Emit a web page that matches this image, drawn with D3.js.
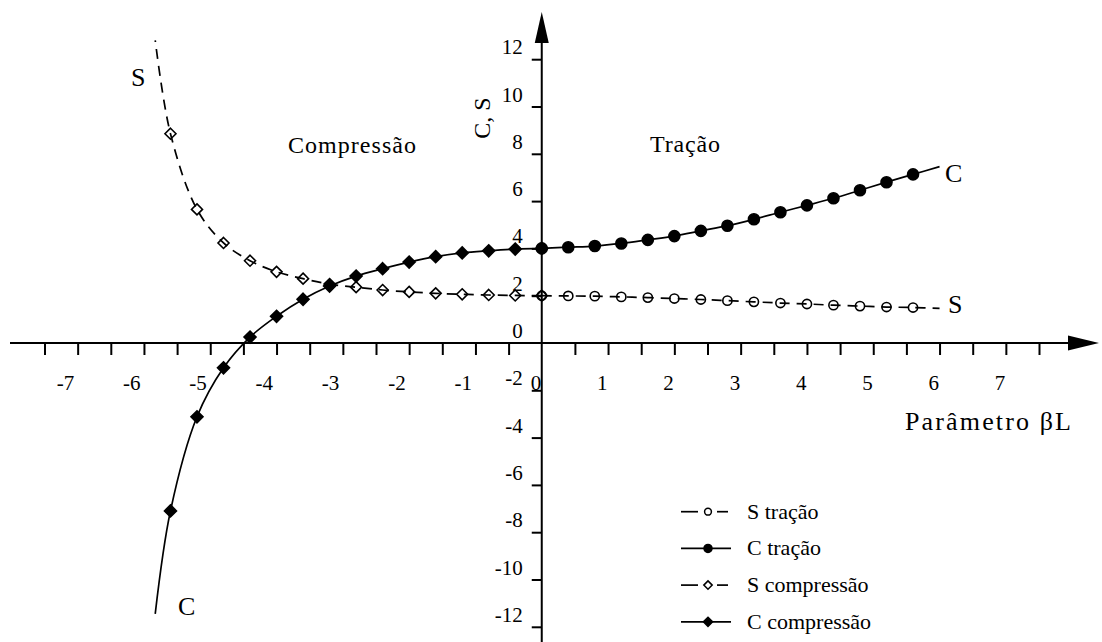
<!DOCTYPE html>
<html>
<head>
<meta charset="utf-8">
<script src="https://cdn.jsdelivr.net/npm/d3@7"></script>
<style>
  html, body { margin: 0; padding: 0; background: #fff; }
  svg, svg text { font-family: "Liberation Serif", "Times New Roman", Times, serif; }
</style>
</head>
<body>
<svg id="chart" width="1102" height="642"></svg>
<script>
// Stability functions C and S against the parameter βL.
// Each series' last point only closes the curve; it carries no marker.
const xTracao     = [0, 0.4, 0.8, 1.2, 1.6, 2.0, 2.4, 2.8, 3.2, 3.6, 4.0, 4.4, 4.8, 5.2, 5.6, 6.0];
const cTracao     = [4.00, 4.05, 4.10, 4.21, 4.36, 4.52, 4.74, 4.96, 5.23, 5.53, 5.82, 6.12, 6.46, 6.80, 7.13, 7.46];
const sTracao     = [2.00, 1.99, 1.98, 1.95, 1.92, 1.88, 1.84, 1.79, 1.74, 1.69, 1.65, 1.60, 1.56, 1.52, 1.50, 1.46];

const xCompressao = [0, -0.4, -0.8, -1.2, -1.6, -2.0, -2.4, -2.8, -3.2, -3.6, -4.0, -4.4, -4.8, -5.2, -5.6, -5.83];
const cCompressao = [4.00, 3.97, 3.90, 3.81, 3.65, 3.42, 3.14, 2.83, 2.41, 1.85, 1.13, 0.25, -1.05, -3.12, -7.10, -11.45];
const sCompressao = [2.00, 2.01, 2.03, 2.06, 2.10, 2.16, 2.24, 2.36, 2.49, 2.72, 3.01, 3.48, 4.23, 5.65, 8.85, 12.80];

const xTickMarks  = [-7.5, -7, -6.5, -6, -5.5, -5, -4.5, -4, -3.5, -3, -2.5, -2, -1.5, -1, -0.5,
                     0.5, 1, 1.5, 2, 2.5, 3, 3.5, 4, 4.5, 5, 5.5, 6, 6.5, 7, 7.5];
const xTickLabels = [-7, -6, -5, -4, -3, -2, -1, 0, 1, 2, 3, 4, 5, 6, 7];
const yTickMarks  = [-12, -10, -8, -6, -4, -2, 2, 4, 6, 8, 10, 12];
const yTickLabels = [-12, -10, -8, -6, -4, -2, 0, 2, 4, 6, 8, 10, 12];
const legendLabels = ["S tração", "C tração", "S compressão", "C compressão"];

const serif = "Liberation Serif, Times New Roman, Times, serif";
const svg = d3.select("#chart").attr("font-family", serif);
const x = d3.scaleLinear().domain([-7.5, 7.5]).range([44.5, 1039]);
const y = d3.scaleLinear().domain([-12, 12]).range([626.8, 59.2]);
const x0 = x(0), y0 = y(0);
const ink = "#000";

// ---- axes ----
const axes = svg.append("g").attr("stroke", ink).attr("fill", ink);
axes.append("line").attr("x1", 10).attr("x2", 1068).attr("y1", y0).attr("y2", y0).attr("stroke-width", 2);
axes.append("path").attr("stroke", "none")
  .attr("d", `M1068,${y0 - 7.5}L1099,${y0}L1068,${y0 + 7.5}Z`);
axes.append("line").attr("x1", x0).attr("x2", x0).attr("y1", 43).attr("y2", 642).attr("stroke-width", 2);
axes.append("path").attr("stroke", "none")
  .attr("d", `M${x0 - 7},43L${x0},12L${x0 + 7},43Z`);

// tick marks
svg.append("g").attr("transform", `translate(0,${y0})`)
  .call(d3.axisBottom(x).tickValues(xTickMarks).tickSize(12).tickFormat(""))
  .call(g => g.select(".domain").remove())
  .call(g => g.selectAll("line").attr("stroke-width", 2));
svg.append("g").attr("transform", `translate(${x0},0)`)
  .call(d3.axisLeft(y).tickValues(yTickMarks).tickSize(10).tickFormat(""))
  .call(g => g.select(".domain").remove())
  .call(g => g.selectAll("line").attr("stroke-width", 2));

// tick labels
const fmt = d => d < 0 ? "-" + Math.abs(d) : String(d);
svg.append("g").attr("transform", `translate(0,${y0})`)
  .call(d3.axisBottom(x).tickValues(xTickLabels).tickSize(0).tickFormat(fmt))
  .call(g => g.select(".domain").remove())
  .call(g => g.attr("font-family", serif).attr("font-size", 21))
  .call(g => g.selectAll("text")
    .attr("fill", ink).attr("text-anchor", "end").attr("dy", null).attr("y", 47)
    .attr("x", d => d < 0 ? -4 : -1));
svg.append("g").attr("transform", `translate(${x0},0)`)
  .call(d3.axisLeft(y).tickValues(yTickLabels).tickSize(0).tickPadding(19).tickFormat(fmt))
  .call(g => g.select(".domain").remove())
  .call(g => g.attr("font-family", serif).attr("font-size", 21))
  .call(g => g.selectAll("text").attr("fill", ink).attr("dy", null).attr("y", -5.5));

// ---- series ----
const line = d3.line().x(d => x(d[0])).y(d => y(d[1])).curve(d3.curveCatmullRom.alpha(0.5));
const pts = (xs, ys) => xs.map((v, i) => [v, ys[i]]);
const diamond = r => `M0,${-r}L${r},0L0,${r}L${-r},0Z`;

const series = [
  { xs: xTracao, ys: sTracao, dash: "10,7", marker: "circle", filled: false },
  { xs: xTracao, ys: cTracao, dash: null, marker: "circle", filled: true },
  { xs: xCompressao, ys: sCompressao, dash: "10,7", marker: "diamond", filled: false },
  { xs: xCompressao, ys: cCompressao, dash: null, marker: "diamond", filled: true }
];

const plot = svg.append("g");
series.forEach(s => {
  const data = pts(s.xs, s.ys);
  plot.append("path").datum(data).attr("d", line)
    .attr("fill", "none").attr("stroke", ink).attr("stroke-width", 1.7)
    .attr("stroke-dasharray", s.dash);
  const marks = data.slice(0, -1);
  const g = plot.append("g");
  if (s.marker === "circle") {
    g.selectAll("circle").data(marks).join("circle")
      .attr("cx", d => x(d[0])).attr("cy", d => y(d[1]))
      .attr("r", s.filled ? 5.5 : 4.6)
      .attr("fill", s.filled ? ink : "none").attr("stroke", ink).attr("stroke-width", 1.6);
  } else {
    g.selectAll("path").data(marks).join("path")
      .attr("transform", d => `translate(${x(d[0])},${y(d[1])})`)
      .attr("d", diamond(s.filled ? 6 : 5.5))
      .attr("fill", s.filled ? ink : "none").attr("stroke", ink).attr("stroke-width", 1.6);
  }
});

// ---- annotations ----
const txt = (t, px, py, size, len) => {
  const e = svg.append("text").attr("x", px).attr("y", py)
    .attr("font-family", serif).attr("font-size", size).attr("fill", ink).text(t);
  if (len) e.attr("textLength", len).attr("lengthAdjust", "spacing");
  return e;
};
txt("Compressão", 288, 153, 24, 128);
txt("Tração", 650, 152, 24, 70);
txt("Parâmetro βL", 905, 430, 26, 166);
txt("C", 945, 182, 26);
txt("S", 948, 313, 26);
txt("S", 131, 86, 26);
txt("C", 178, 615, 26);
svg.append("text").attr("transform", "translate(490,118) rotate(-90)")
  .attr("font-family", serif).attr("text-anchor", "middle").attr("font-size", 24)
  .attr("fill", ink).text("C, S");

// ---- legend ----
const legend = svg.append("g");
legendLabels.forEach((label, i) => {
  const s = series[i];
  const ly = 511.7 + i * 36.7;
  const row = legend.append("g").attr("transform", `translate(0,${ly})`);
  if (s.dash) {
    row.append("line").attr("x1", 681).attr("x2", 698).attr("stroke", ink).attr("stroke-width", 1.7);
    row.append("line").attr("x1", 717).attr("x2", 728).attr("stroke", ink).attr("stroke-width", 1.7);
  } else {
    row.append("line").attr("x1", 681).attr("x2", 731).attr("stroke", ink).attr("stroke-width", 1.7);
  }
  if (s.marker === "circle") {
    row.append("circle").attr("cx", 708).attr("r", s.filled ? 4 : 3.4)
      .attr("fill", s.filled ? ink : "#fff").attr("stroke", ink).attr("stroke-width", 1.5);
  } else {
    row.append("path").attr("transform", "translate(708,0)").attr("d", diamond(s.filled ? 4.6 : 4.2))
      .attr("fill", s.filled ? ink : "#fff").attr("stroke", ink).attr("stroke-width", 1.5);
  }
  row.append("text").attr("x", 747).attr("y", 7).attr("font-family", serif)
    .attr("font-size", 22).attr("fill", ink).text(label);
});
</script>
</body>
</html>
